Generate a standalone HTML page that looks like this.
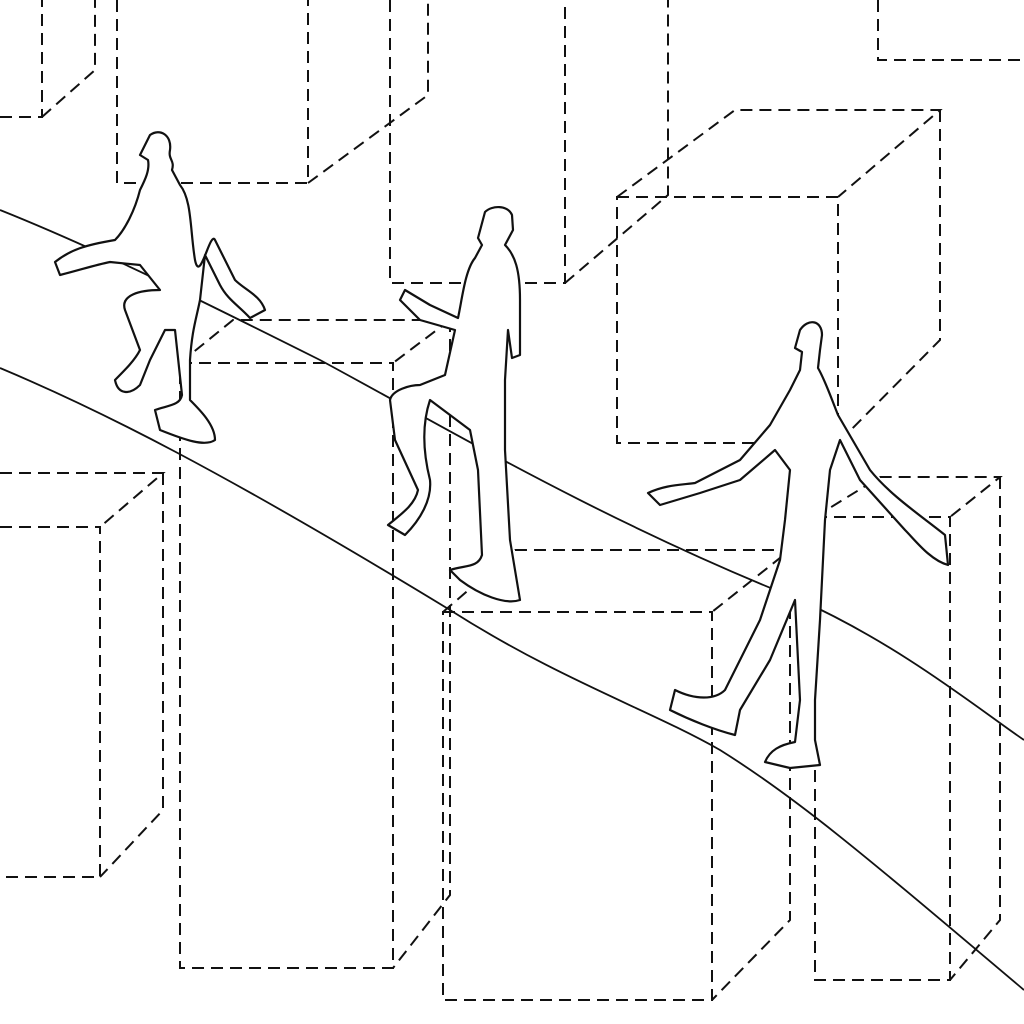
<!DOCTYPE html>
<html><head><style>html,body{margin:0;padding:0;background:#fff;}svg{display:block}</style></head>
<body>
<svg width="1024" height="1024" viewBox="0 0 1024 1024" xmlns="http://www.w3.org/2000/svg">
<rect width="1024" height="1024" fill="#fff"/>
<g fill="none" stroke="#111" stroke-width="2" stroke-dasharray="12,7">
<!-- A -->
<path d="M0 117 H42 V0 M42 117 L95 70 V0"/>
<!-- B -->
<path d="M117 0 V183 H308 V0 M308 183 L428 95 V0"/>
<!-- C -->
<path d="M390 0 V283 H565 V0 M565 283 L668 195 V0"/>
<!-- D -->
<path d="M878 0 V60 H1024"/>
<!-- E -->
<path d="M617 197 H838 V443 H617 Z M617 197 L735 110 H940 L838 197 M940 110 V340 L838 443"/>
<!-- F -->
<path d="M0 527 H100 V877 H0 M0 473 H163 L100 527 M163 473 V810 L100 877"/>
<!-- G -->
<path d="M180 363 H393 V968 H180 Z M180 363 L233 320 H450 L393 363 M450 320 V895 L393 968"/>
<!-- H -->
<path d="M443 612 H712 V1000 H443 Z M443 612 L515 550 H790 L712 612 M790 550 V920 L712 1000"/>
<!-- I -->
<path d="M815 517 H950 V980 H815 Z M815 517 L880 477 H1000 L950 517 M1000 477 V920 L950 980"/>
</g>
<g fill="none" stroke="#111" stroke-width="1.8">
<path d="M0 210 C100 250 200 300 320 360 C450 430 600 520 800 600 C900 645 980 710 1024 740"/>
<path d="M0 368 C100 410 220 470 450 610 C560 680 650 710 720 750 C800 800 870 860 1024 990"/>
</g>
<g fill="#fff" stroke="#111" stroke-width="2.2" stroke-linejoin="round">
<!-- figure 1 -->
<path d="M150 135 C160 128 172 135 170 150 C168 160 175 160 172 170 L180 185 C192 200 190 230 195 260 C200 285 210 230 215 240 L235 280 C245 290 260 295 265 310 L250 318 C238 305 228 300 220 285 L205 255 L200 300 C196 320 192 330 190 360 L190 400 C200 410 215 425 215 440 C205 447 185 440 160 430 L155 410 C170 405 180 405 182 395 L175 330 L165 330 L150 360 L140 385 C130 395 118 395 115 380 C125 370 135 360 140 350 L125 310 C120 295 140 290 160 290 L140 265 L110 262 C95 265 80 270 60 275 L55 262 C70 250 85 245 115 240 C125 230 135 210 140 190 C145 180 150 170 148 160 L140 155 Z"/>
<!-- figure 2 -->
<path d="M485 212 C492 205 508 205 512 215 L513 230 L505 245 C515 255 520 270 520 300 L520 355 L512 358 L508 330 L505 380 L505 450 L510 540 L520 600 C505 605 480 595 460 580 L450 570 C465 565 478 568 482 555 L478 470 L470 430 L430 400 C420 430 425 460 430 480 C432 500 420 520 405 535 L388 525 C400 515 415 505 418 490 L395 440 L390 400 C392 390 410 385 420 385 L445 375 L455 330 L420 320 L400 300 L405 290 L430 305 L458 318 C462 300 465 270 475 258 L482 245 L478 238 Z"/>
<!-- figure 3 -->
<path d="M800 330 C808 318 822 320 822 335 L820 350 L818 368 C825 380 830 395 838 415 L870 470 C890 495 920 515 945 535 L948 565 C930 560 915 540 905 530 L860 480 L840 440 L830 470 L825 520 L820 620 L815 700 L815 740 L820 765 L790 768 L765 762 C770 750 780 745 795 742 L800 700 L795 600 L770 660 L740 710 L735 735 C715 730 690 720 670 710 L675 690 C695 700 715 700 725 690 L760 620 L780 560 L785 520 L790 470 L775 450 L740 480 L700 493 L660 505 L648 493 C665 485 680 485 695 483 L740 460 L770 425 L790 390 L800 370 L802 352 L795 348 Z"/>
</g>
</svg>
</body></html>
